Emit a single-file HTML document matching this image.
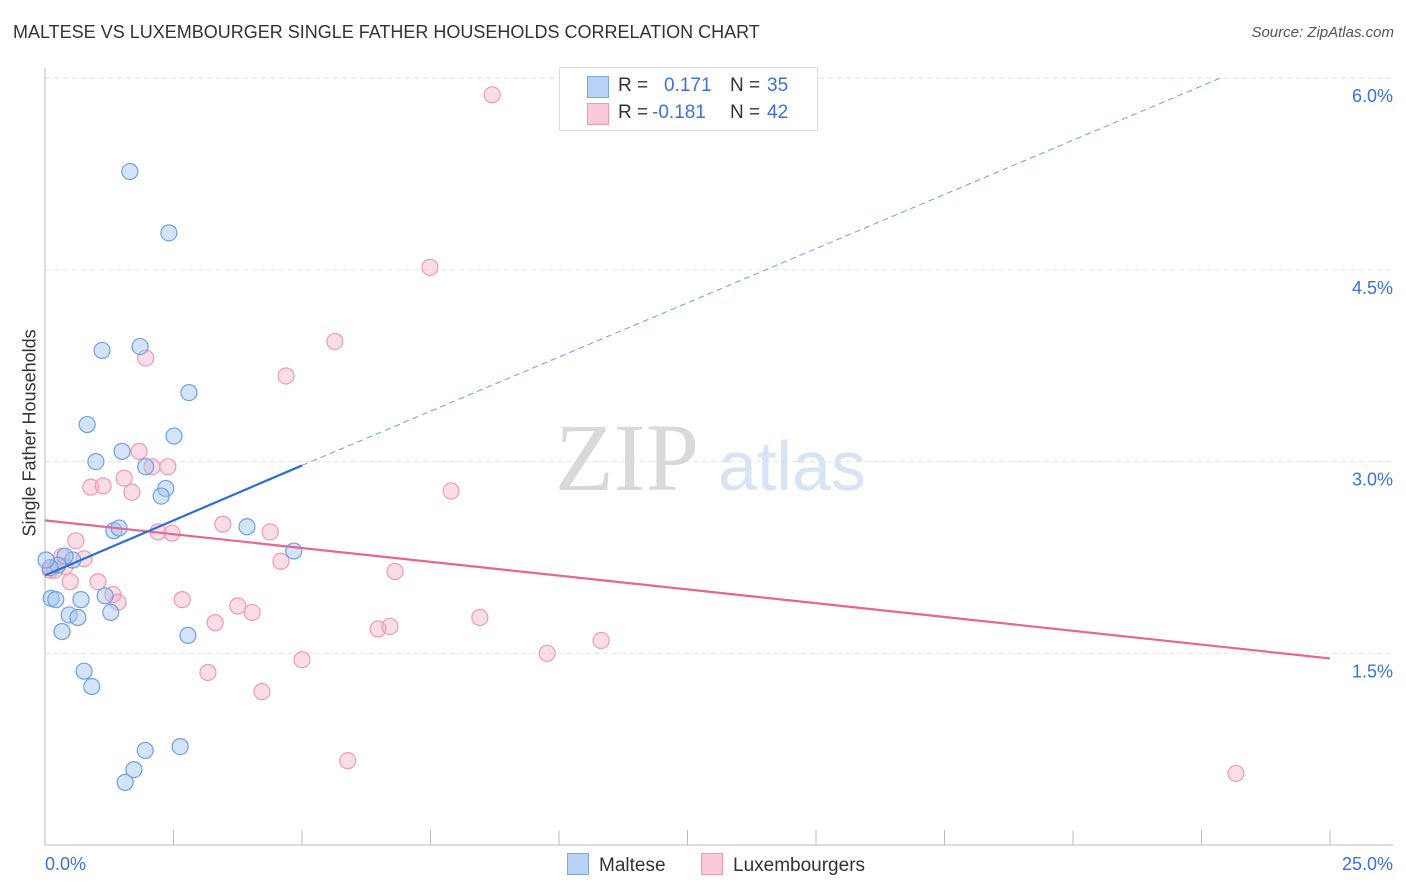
<!DOCTYPE html>
<html><head><meta charset="utf-8">
<style>
body{margin:0;background:#fff;font-family:"Liberation Sans",sans-serif;}
#wrap{position:relative;width:1406px;height:892px;overflow:hidden;}
.t{position:absolute;white-space:nowrap;}
</style></head><body>
<div id="wrap">
<div class="t" style="left:13px;top:22px;font-size:18px;color:#333;">MALTESE VS LUXEMBOURGER SINGLE FATHER HOUSEHOLDS CORRELATION CHART</div>
<div class="t" style="right:12px;top:24px;font-size:15px;color:#555;font-style:italic;">Source: ZipAtlas.com</div>
<div class="t" style="left:-50px;top:446px;font-size:18px;color:#333;transform:rotate(-90deg);transform-origin:center;width:160px;text-align:center;">Single Father Households</div>
<svg id="svg" width="1406" height="892" style="position:absolute;left:0;top:0"></svg>
<div style="position:absolute;left:559px;top:67px;width:257px;height:62px;border:1px solid #ddd;background:#fff;font-size:19px;">
  <div style="position:absolute;left:27px;top:8px;width:20px;height:20px;background:#b8d3f5;border:1px solid #7aa8e6;"></div>
  <div class="t" style="left:58px;top:7px;color:#333;">R =</div>
  <div class="t" style="left:104px;top:7px;color:#3a72d6;">0.171</div>
  <div class="t" style="left:170px;top:7px;color:#333;">N =</div>
  <div class="t" style="left:207px;top:7px;color:#3a72d6;">35</div>
  <div style="position:absolute;left:27px;top:35px;width:20px;height:20px;background:#fbc9d8;border:1px solid #ef9bb5;"></div>
  <div class="t" style="left:58px;top:34px;color:#333;">R =</div>
  <div class="t" style="left:92px;top:34px;color:#3a72d6;">-0.181</div>
  <div class="t" style="left:170px;top:34px;color:#333;">N =</div>
  <div class="t" style="left:207px;top:34px;color:#3a72d6;">42</div>
</div>
<div style="position:absolute;left:567px;top:853px;font-size:19px;color:#333;">
  <span style="display:inline-block;width:20px;height:20px;background:#b8d3f5;border:1px solid #7aa8e6;vertical-align:-4px;margin-right:10px;"></span>Maltese</div>
<div style="position:absolute;left:701px;top:853px;font-size:19px;color:#333;">
  <span style="display:inline-block;width:20px;height:20px;background:#fbc9d8;border:1px solid #ef9bb5;vertical-align:-4px;margin-right:10px;"></span>Luxembourgers</div>
</div>
<script>
const xTickLabels=["0.0%","25.0%"];
const yTickValues=[1.5,3.0,4.5,6.0];
const yTickLabels=["1.5%","3.0%","4.5%","6.0%"];
const malteseX=[1.65,2.41,1.11,1.85,2.80,0.82,2.51,1.50,0.99,1.96,2.35,2.26,3.93,1.34,1.44,4.84,0.54,0.39,0.25,0.10,0.02,0.12,0.21,0.70,1.17,1.28,0.47,0.64,0.33,2.78,0.76,0.91,2.63,1.95,1.73,1.56];
const malteseY=[5.27,4.79,3.87,3.90,3.54,3.29,3.20,3.08,3.00,2.96,2.79,2.73,2.49,2.46,2.48,2.30,2.23,2.26,2.19,2.17,2.23,1.93,1.92,1.92,1.95,1.82,1.80,1.78,1.67,1.64,1.36,1.24,0.77,0.74,0.59,0.49];
const luxX=[8.70,7.49,5.64,1.96,4.69,1.83,2.08,2.39,1.54,0.89,1.13,1.69,7.90,3.46,2.20,2.47,4.38,0.60,0.76,4.59,0.33,0.10,6.81,0.49,1.03,1.32,1.42,2.67,3.75,4.03,8.46,3.31,6.48,6.71,10.82,9.77,5.00,3.17,4.22,5.89,23.17,0.19,0.39];
const luxY=[5.87,4.52,3.94,3.81,3.67,3.08,2.96,2.96,2.87,2.80,2.81,2.76,2.77,2.51,2.45,2.44,2.45,2.38,2.24,2.22,2.26,2.15,2.14,2.06,2.06,1.96,1.90,1.92,1.87,1.82,1.78,1.74,1.69,1.71,1.60,1.50,1.45,1.35,1.20,0.66,0.56,2.15,2.18];
const malteseTrend=[[0,2.11],[5.0,2.97]];
const malteseTrendExt=[[5.0,2.97],[22.86,6.0]];
const luxTrend=[[0,2.54],[25,1.46]];

const X0=45,X1=1330,YB=845,PXY=127.8;
const sx=v=>X0+v*(X1-X0)/25;
const sy=v=>YB-v*PXY;
const svg=document.getElementById('svg');
const NS="http://www.w3.org/2000/svg";
function mk(tag,attrs){const e=document.createElementNS(NS,tag);for(const k in attrs)e.setAttribute(k,attrs[k]);svg.appendChild(e);return e;}

yTickValues.forEach((v,i)=>{
  const g=mk('line',{x1:X0,x2:1393,y1:sy(v),y2:sy(v),stroke:'#e2e2e2','stroke-dasharray':'5,4'});
  
  
  const t=mk('text',{x:1393,y:sy(v)+24,'text-anchor':'end','font-size':18,fill:'#3a72d6','font-family':'Liberation Sans, sans-serif'});
  t.textContent=yTickLabels[i];
  
  
});
const ax=mk('line',{x1:X0,x2:1393,y1:YB,y2:YB,stroke:'#bbb'});


const ay=mk('line',{x1:X0,x2:X0,y1:68,y2:YB,stroke:'#bbb'});


for(let i=0;i<=10;i++){
  const tk=mk('line',{x1:sx(i*2.5),x2:sx(i*2.5),y1:YB-15,y2:YB,stroke:'#bbb'});
  
  
}
[[0,'start'],[25,'end']].forEach((p,i)=>{
  const t=mk('text',{x:i?1393:45,y:870,'text-anchor':p[1],'font-size':18,fill:'#3a72d6','font-family':'Liberation Sans, sans-serif'});
  t.textContent=xTickLabels[i];
  
  
});
const w1=mk('text',{x:555,y:490,'font-size':96,fill:'#d9d9d9','font-family':'Liberation Serif, serif'});
w1.textContent='ZIP';


const w2=mk('text',{x:718,y:490,'font-size':70,fill:'#d6e4f5','font-family':'Liberation Sans, sans-serif'});
w2.textContent='atlas';



luxX.forEach((x,i)=>{
  const c=mk('circle',{cx:sx(x),cy:sy(luxY[i]),r:8,fill:'rgba(246,170,195,0.4)',stroke:'#ee9ab4','stroke-width':1.2});
  
  
});
malteseX.forEach((x,i)=>{
  const c=mk('circle',{cx:sx(x),cy:sy(malteseY[i]),r:8,fill:'rgba(160,195,240,0.45)',stroke:'#6f9fe2','stroke-width':1.2});
  
  
});
const l1=mk('line',{x1:sx(luxTrend[0][0]),y1:sy(luxTrend[0][1]),x2:sx(luxTrend[1][0]),y2:sy(luxTrend[1][1]),stroke:'#e8658f','stroke-width':2.2});


const l2=mk('line',{x1:sx(malteseTrend[0][0]),y1:sy(malteseTrend[0][1]),x2:sx(malteseTrend[1][0]),y2:sy(malteseTrend[1][1]),stroke:'#2a6fd6','stroke-width':2.2});


const l3=mk('line',{x1:sx(malteseTrendExt[0][0]),y1:sy(malteseTrendExt[0][1]),x2:sx(malteseTrendExt[1][0]),y2:sy(malteseTrendExt[1][1]),stroke:'#6f9fe2','stroke-width':1,'stroke-dasharray':'6,4'});


</script>
</body></html>
